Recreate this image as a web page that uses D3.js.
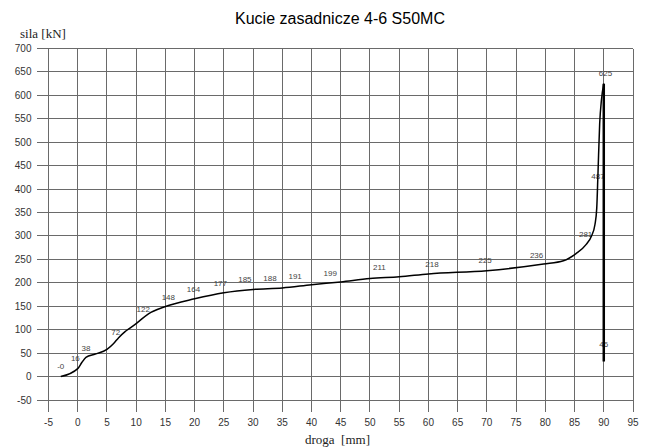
<!DOCTYPE html>
<html>
<head>
<meta charset="utf-8">
<script src="https://cdn.jsdelivr.net/npm/d3@7"></script>
<style>
  body { margin: 0; background: #fff; }
  .grid line { stroke: #6a6a6a; stroke-width: 1; shape-rendering: crispEdges; }
  .tick-label { font-family: "Liberation Sans", Arial, sans-serif; font-size: 10px; fill: #333; }
  .pt-label { font-family: "Liberation Sans", Arial, sans-serif; font-size: 8px; fill: #444; }
  .title { font-family: "Liberation Sans", Arial, sans-serif; font-size: 16px; fill: #000; }
  .axis-name { font-family: "Liberation Serif", "Times New Roman", serif; font-size: 13px; fill: #222; }
</style>
</head>
<body>
<script>
// loading curve: droga [mm] vs sila [kN]
const drogaMm = [-2.9, 0, 0.7, 1.4, 3, 5, 6.1, 7, 8.1, 9, 10.1, 12.1, 14.9, 20, 25, 30, 35, 40, 45, 50, 55, 60, 70, 79.7, 83.1, 85.2, 87, 87.9, 88.5, 88.8, 89, 89.3, 89.6, 90]
const silaKn = [0, 17, 30, 41, 48, 58, 70, 83, 96, 104, 114, 134, 149, 166, 179, 186, 189, 196, 202, 209, 213, 219, 226, 240, 247, 262, 282, 300, 325, 360, 430, 540, 590, 625]

// unloading (ram going back), drawn heavier
const powrotMm = [90, 90, 90]
const powrotKn = [625, 46, 32]

// value labels written along the curve
const etykietyTekst = ["-0", "16", "38", "72", "122", "148", "164", "177", "185", "188", "191", "199", "211", "218", "225", "236", "281", "487", "625", "46"]
const etykietyMm = [-2.9, -0.4, 1.4, 6.5, 11.2, 15.5, 19.8, 24.4, 28.6, 32.9, 37.2, 43.2, 51.6, 60.6, 69.7, 78.5, 86.9, 89.0, 90.3, 90]
const etykietyKn = [0, 16, 38, 72, 122, 148, 164, 177, 185, 188, 191, 199, 211, 218, 225, 236, 281, 406, 625, 46]

const xTicks = d3.range(-5, 96, 5)
const yTicks = d3.range(-50, 701, 50)

const width = 650
const height = 448

const x = d3.scaleLinear().domain([-5, 95]).range([48.5, 633])
const y = d3.scaleLinear().domain([-50, 700]).range([400, 48.5])

const svg = d3.select("body").append("svg")
  .attr("width", width)
  .attr("height", height)

// grid, lines run a bit past the last tick to act as tick marks
const grid = svg.append("g").attr("class", "grid")
grid.selectAll("line.h")
  .data(yTicks)
  .enter().append("line")
  .attr("class", "h")
  .attr("x1", x(-5) - 12)
  .attr("x2", x(95))
  .attr("y1", d => y(d))
  .attr("y2", d => y(d))
grid.selectAll("line.v")
  .data(xTicks)
  .enter().append("line")
  .attr("class", "v")
  .attr("x1", d => x(d))
  .attr("x2", d => x(d))
  .attr("y1", y(700))
  .attr("y2", y(-50) + 12)

svg.append("g").selectAll("text")
  .data(yTicks)
  .enter().append("text")
  .attr("class", "tick-label")
  .attr("x", x(-5) - 17)
  .attr("y", d => y(d))
  .attr("dy", "0.35em")
  .attr("text-anchor", "end")
  .text(d => d)

svg.append("g").selectAll("text")
  .data(xTicks)
  .enter().append("text")
  .attr("class", "tick-label")
  .attr("x", d => x(d))
  .attr("y", 426)
  .attr("text-anchor", "middle")
  .text(d => d)

// labels first, the curve is drawn over them
svg.append("g").selectAll("text")
  .data(etykietyTekst)
  .enter().append("text")
  .attr("class", "pt-label")
  .attr("x", (d, i) => x(etykietyMm[i]))
  .attr("y", (d, i) => y(etykietyKn[i]) - 10.5)
  .attr("dy", "0.35em")
  .attr("text-anchor", "middle")
  .text(d => d)

const line = d3.line()
  .x(d => x(d[0]))
  .y(d => y(d[1]))
  .curve(d3.curveMonotoneX)

svg.append("path")
  .datum(d3.zip(drogaMm, silaKn))
  .attr("fill", "none")
  .attr("stroke", "#000")
  .attr("stroke-width", 1.5)
  .attr("d", line)

svg.append("path")
  .datum(d3.zip(powrotMm, powrotKn))
  .attr("fill", "none")
  .attr("stroke", "#000")
  .attr("stroke-width", 2.5)
  .attr("d", d3.line().x(d => x(d[0])).y(d => y(d[1])))

svg.append("text")
  .attr("class", "title")
  .attr("x", 340)
  .attr("y", 24)
  .attr("text-anchor", "middle")
  .text("Kucie zasadnicze 4-6 S50MC")

svg.append("text")
  .attr("class", "axis-name")
  .attr("x", 20)
  .attr("y", 38)
  .text("sila [kN]")

svg.append("text")
  .attr("class", "axis-name")
  .attr("x", 305)
  .attr("y", 444)
  .attr("xml:space", "preserve")
  .style("white-space", "pre")
  .text("droga  [mm]")
</script>
</body>
</html>
